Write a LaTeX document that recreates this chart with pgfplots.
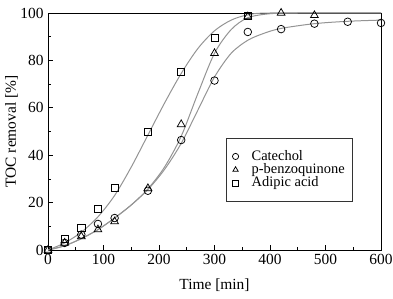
\documentclass[border=0pt]{standalone}
\usepackage{pgfplots}
\pgfplotsset{compat=1.18}
\usepackage{fontspec}
\setmainfont{Liberation Serif}
\begin{document}
\fontsize{15.5}{17}\selectfont
\begin{tikzpicture}
\begin{axis}[
  scale only axis, width=333bp, height=237bp,
  xmin=0, xmax=600, ymin=0, ymax=100,
  xtick={0,100,...,600}, ytick={0,20,...,100},
  minor x tick num=1, minor y tick num=1,
  tick align=inside, tick pos=left,
  major tick length=5bp, minor tick length=3bp,
  /pgf/number format/assume math mode=true,
  xlabel={Time [min]}, ylabel={TOC removal [\%]},
  xticklabel style={yshift=1bp}, yticklabel style={xshift=1bp},
  xlabel style={yshift=-4bp}, ylabel style={yshift=-8bp},
  clip=false,
  axis line style={line width=0.8bp},
  every tick/.style={black, line width=0.7bp},
  legend style={at={(0.535,0.4726)}, anchor=north west, draw=black!80, line width=0.6bp,
    font=\fontsize{14.5}{15}\selectfont, row sep=-3pt, inner xsep=6bp, inner ysep=10bp,
    /tikz/every odd column/.append style={column sep=11bp}},
  legend cell align=left,
  legend image code/.code={\draw[#1, mark size=3.1bp] plot coordinates {(0.25cm,0cm)};},
]
% fitted curves
\addplot[black!42, line width=1bp, smooth, forget plot] coordinates {
 (0,0) (30,1.8) (60,4.8) (90,8.6) (120,13.5) (150,19) (180,25.5) (210,34) (240,45) (270,59) (300,73) (330,83) (360,88.5) (390,91.5) (420,93.5) (480,95.5) (540,96.5) (600,97)};
\addplot[black!42, line width=1bp, smooth, forget plot] coordinates {
 (0,0) (30,1.8) (60,4.8) (90,8.6) (120,13.5) (150,19) (180,25.8) (210,35) (240,48) (270,66) (300,83) (330,93) (360,98) (400,99.7) (450,100) (600,100)};
\addplot[black!42, line width=1bp, smooth, forget plot] coordinates {
 (0,0) (30,3) (60,7.5) (90,14) (120,23) (150,35) (180,48.5) (210,62) (240,74.5) (270,85) (300,92.5) (330,97) (360,99.2) (400,100) (600,100)};
% data
\addplot[only marks, mark=o, mark size=3.8bp, black, line width=0.75bp] coordinates {
 (0,0) (30,3) (60,6.5) (90,11) (120,13.5) (180,25) (240,46.4) (300,71.5) (360,92) (420,93.2) (480,95.5) (540,96.3) (600,95.8)};
\addplot[only marks, mark=triangle, mark size=4.5bp, black, line width=0.75bp] coordinates {
 (0,0) (30,3) (60,5.7) (90,8.6) (120,12) (180,26) (240,53) (300,83) (360,98.5) (420,100) (480,99)};
\addplot[only marks, mark=square, mark size=3.6bp, black, line width=0.75bp] coordinates {
 (0,0) (30,4.7) (60,9.3) (90,17.2) (120,26.3) (180,50) (240,75) (300,89.5) (360,98.7)};
\legend{Catechol, p-benzoquinone, Adipic acid}
\end{axis}
\pgfresetboundingbox
\path ([xshift=-48bp,yshift=-48bp]current axis.south west) rectangle ([xshift=12bp,yshift=13bp]current axis.north east);
\end{tikzpicture}
\end{document}
